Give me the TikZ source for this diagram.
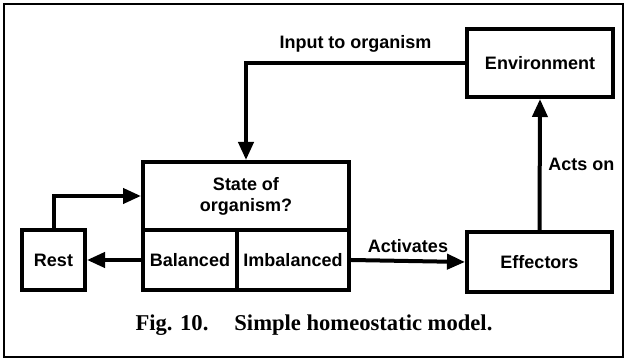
\documentclass[tikz,border=0pt]{standalone}
\usepackage{fontspec}
\setmainfont{Liberation Serif}
\setsansfont{Liberation Sans}
\usetikzlibrary{arrows.meta}

\tikzset{
  blok/.style={draw, line width=2pt, inner sep=0pt, align=center,
    font=\sffamily\bfseries\fontsize{9}{10.5}\selectfont},
  flow/.style={line width=2pt, -{Triangle[length=9pt,width=7.5pt]}},
  lbl/.style={font=\sffamily\bfseries\fontsize{9}{10.5}\selectfont}
}

\begin{document}
\begin{tikzpicture}[x=0.5pt, y=-0.5pt]
            \useasboundingbox (0,0) rectangle (627,362);
            \draw[line width=1pt] (4,4) rectangle (623,357);

            \node[blok, minimum width=73pt, minimum height=34pt] (env) at (540,63) {Environment};
            \node[blok, minimum width=72.5pt, minimum height=30pt] (eff) at (539.5,262) {Effectors};
            \node[blok, minimum width=31.5pt, minimum height=30pt] (rest) at (53.5,260) {Rest};
            \node[blok, minimum width=103pt, minimum height=34pt] (state) at (246,196) {State of\\organism?};
            \node[blok, minimum width=47pt, minimum height=30pt] (bal) at (190,260) {Balanced};
            \node[blok, minimum width=56pt, minimum height=30pt] (imbal) at (293,260) {Imbalanced};

            \draw[flow] (env.west) -| node[lbl, pos=0.25, above=1pt] (input) {Input to organism} (state.north);
            \draw[flow] (rest.north) |- (state.west);
            \draw[flow] (bal.west) -- (rest.east);
            \draw[flow] (imbal.east) -- node[lbl, above=0pt] (activ) {Activates} (eff.west);
            \draw[flow] (eff.north) -- node[lbl, right=0pt] (actson) {Acts on} (env.south);

            \node[font=\bfseries\fontsize{11.3}{13}\selectfont] (cap) at (314,325) {Fig. 10.\hspace{13pt}Simple homeostatic model.};
        \end{tikzpicture}
\end{document}
